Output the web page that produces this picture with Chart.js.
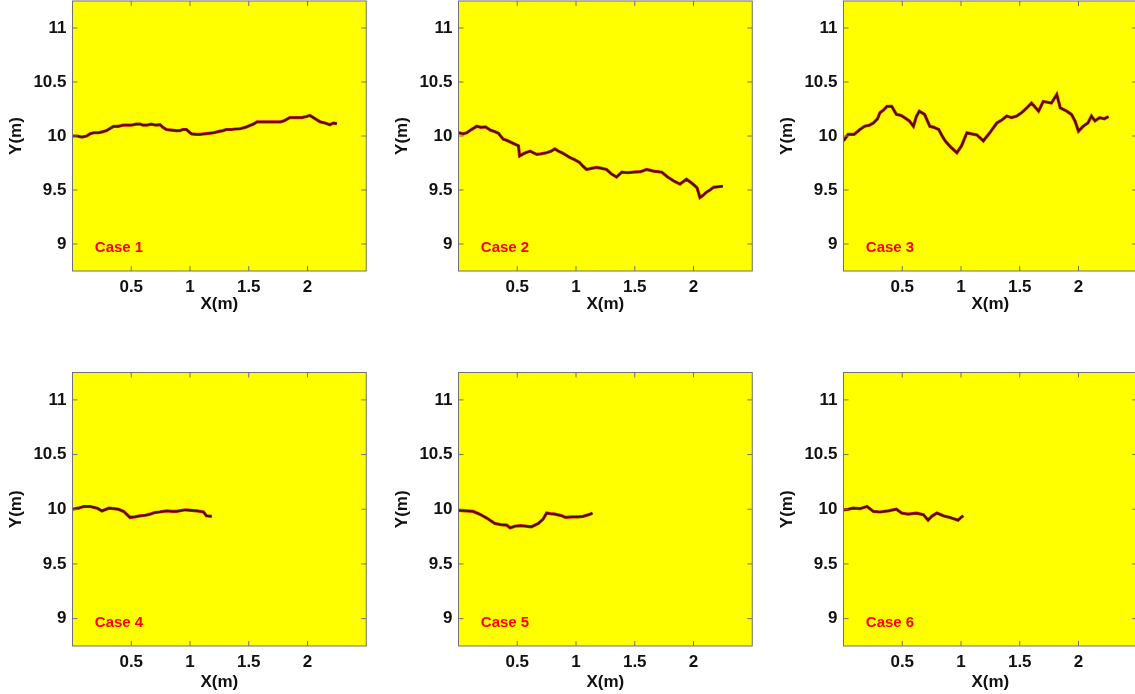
<!DOCTYPE html>
<html>
<head>
<meta charset="utf-8">
<script src="https://cdn.jsdelivr.net/npm/chart.js@4.4.1/dist/chart.umd.min.js"></script>
<style>
  html, body { margin: 0; padding: 0; background: #fff; overflow: hidden; }
  body { width: 1135px; height: 694px; position: relative; }
  canvas { position: absolute; }
</style>
</head>
<body>
<canvas id="c1" width="380" height="316" style="left:0px;top:0px"></canvas>
<canvas id="c2" width="380" height="316" style="left:386px;top:0px"></canvas>
<canvas id="c3" width="380" height="316" style="left:771px;top:0px"></canvas>
<canvas id="c4" width="380" height="334" style="left:0px;top:360px"></canvas>
<canvas id="c5" width="380" height="334" style="left:386px;top:360px"></canvas>
<canvas id="c6" width="380" height="334" style="left:771px;top:360px"></canvas>
<script>
// tick labels
const xTicks = [0.5, 1, 1.5, 2];
const yTicks = [9, 9.5, 10, 10.5, 11];
const caseNames = ['Case 1', 'Case 2', 'Case 3', 'Case 4', 'Case 5', 'Case 6'];

// trajectories
const x1 = [0, 0.04, 0.08, 0.12, 0.15, 0.18, 0.22, 0.26, 0.29, 0.32, 0.35, 0.39, 0.43, 0.46, 0.5, 0.54, 0.575, 0.6, 0.63, 0.67, 0.71, 0.745, 0.77, 0.8, 0.84, 0.88, 0.915, 0.94, 0.97, 1.0, 1.015, 1.05, 1.085, 1.12, 1.16, 1.2, 1.24, 1.28, 1.31, 1.35, 1.39, 1.425, 1.47, 1.51, 1.54, 1.57, 1.62, 1.67, 1.72, 1.77, 1.8, 1.85, 1.9, 1.95, 1.99, 2.02, 2.05, 2.08, 2.11, 2.15, 2.19, 2.22, 2.25];
const y1 = [10.0, 10.0, 9.99, 10.0, 10.02, 10.03, 10.03, 10.04, 10.05, 10.07, 10.09, 10.09, 10.1, 10.1, 10.1, 10.11, 10.11, 10.1, 10.1, 10.11, 10.1, 10.105, 10.08, 10.06, 10.055, 10.05, 10.05, 10.06, 10.06, 10.03, 10.02, 10.015, 10.015, 10.02, 10.025, 10.03, 10.04, 10.05, 10.06, 10.06, 10.065, 10.067, 10.08, 10.098, 10.11, 10.13, 10.13, 10.13, 10.13, 10.13, 10.14, 10.17, 10.17, 10.17, 10.18, 10.19, 10.17, 10.15, 10.13, 10.12, 10.105, 10.12, 10.115];

const x2 = [0, 0.04, 0.07, 0.11, 0.155, 0.19, 0.23, 0.27, 0.31, 0.34, 0.38, 0.41, 0.45, 0.51, 0.52, 0.56, 0.61, 0.665, 0.7, 0.75, 0.79, 0.82, 0.85, 0.88, 0.95, 0.99, 1.03, 1.06, 1.09, 1.13, 1.175, 1.22, 1.26, 1.3, 1.345, 1.39, 1.44, 1.49, 1.55, 1.6, 1.66, 1.73, 1.78, 1.83, 1.885, 1.94, 1.995, 2.03, 2.055, 2.08, 2.11, 2.14, 2.17, 2.21, 2.25];
const y2 = [10.03, 10.02, 10.03, 10.06, 10.09, 10.08, 10.085, 10.055, 10.04, 10.025, 9.97, 9.96, 9.94, 9.91, 9.815, 9.84, 9.86, 9.83, 9.835, 9.845, 9.86, 9.88, 9.86, 9.845, 9.8, 9.78, 9.755, 9.72, 9.69, 9.7, 9.71, 9.7, 9.69, 9.65, 9.62, 9.665, 9.66, 9.665, 9.67, 9.69, 9.675, 9.665, 9.62, 9.585, 9.555, 9.6, 9.555, 9.52, 9.43, 9.45, 9.48, 9.5, 9.525, 9.53, 9.535];

const x3 = [0, 0.04, 0.09, 0.14, 0.18, 0.22, 0.255, 0.29, 0.31, 0.34, 0.37, 0.41, 0.45, 0.49, 0.52, 0.56, 0.595, 0.62, 0.645, 0.69, 0.735, 0.77, 0.81, 0.84, 0.865, 0.91, 0.965, 1.005, 1.05, 1.09, 1.135, 1.19, 1.245, 1.305, 1.35, 1.39, 1.43, 1.475, 1.52, 1.56, 1.6, 1.66, 1.7, 1.77, 1.815, 1.845, 1.9, 1.94, 1.97, 2.0, 2.04, 2.08, 2.11, 2.14, 2.18, 2.22, 2.255];
const y3 = [9.955, 10.015, 10.015, 10.06, 10.09, 10.1, 10.12, 10.16, 10.215, 10.24, 10.275, 10.275, 10.2, 10.19, 10.17, 10.14, 10.09, 10.18, 10.23, 10.2, 10.09, 10.08, 10.06, 10.0, 9.955, 9.9, 9.845, 9.91, 10.03, 10.02, 10.01, 9.955, 10.03, 10.12, 10.15, 10.185, 10.17, 10.185, 10.22, 10.26, 10.305, 10.23, 10.32, 10.305, 10.385, 10.26, 10.23, 10.2, 10.14, 10.045, 10.09, 10.12, 10.185, 10.14, 10.17, 10.16, 10.18];

const x4 = [0, 0.05, 0.095, 0.15, 0.21, 0.25, 0.31, 0.35, 0.39, 0.435, 0.49, 0.53, 0.575, 0.62, 0.66, 0.7, 0.74, 0.8, 0.85, 0.885, 0.96, 1.01, 1.06, 1.115, 1.14, 1.185];
const y4 = [10.0, 10.01, 10.025, 10.025, 10.01, 9.985, 10.01, 10.005, 10.0, 9.98, 9.925, 9.93, 9.94, 9.945, 9.955, 9.97, 9.975, 9.985, 9.98, 9.98, 9.995, 9.99, 9.985, 9.975, 9.94, 9.935];

const x5 = [0, 0.07, 0.125, 0.18, 0.24, 0.31, 0.36, 0.41, 0.44, 0.48, 0.525, 0.57, 0.62, 0.68, 0.72, 0.75, 0.78, 0.82, 0.88, 0.91, 0.975, 1.02, 1.06, 1.12, 1.14];
const y5 = [9.99, 9.985, 9.98, 9.955, 9.92, 9.87, 9.86, 9.855, 9.83, 9.845, 9.85, 9.845, 9.84, 9.87, 9.91, 9.965, 9.96, 9.955, 9.94, 9.925, 9.93, 9.93, 9.935, 9.955, 9.965];

const x6 = [0, 0.04, 0.08, 0.14, 0.2, 0.255, 0.31, 0.38, 0.45, 0.495, 0.55, 0.62, 0.68, 0.72, 0.75, 0.795, 0.85, 0.905, 0.975, 1.005, 1.02];
const y6 = [9.995, 10.0, 10.01, 10.005, 10.025, 9.98, 9.975, 9.985, 10.0, 9.965, 9.955, 9.965, 9.95, 9.9, 9.935, 9.965, 9.94, 9.925, 9.9, 9.93, 9.94];

const allX = [x1, x2, x3, x4, x5, x6];
const allY = [y1, y2, y3, y4, y5, y6];

const FONT = "'Liberation Sans', Arial, sans-serif";

// yellow background, inward ticks on all four sides, box and case label
const axesPlugin = {
  id: 'matlabAxes',
  beforeDatasetsDraw(chart) {
    const a = chart.chartArea;
    const ctx = chart.ctx;
    ctx.save();
    ctx.fillStyle = '#ffff00';
    ctx.fillRect(a.left, a.top, a.right - a.left, a.bottom - a.top);
    ctx.restore();
  },
  afterDraw(chart) {
    const a = chart.chartArea;
    const ctx = chart.ctx;
    const xs = chart.scales.x, ys = chart.scales.y;
    ctx.save();
    ctx.strokeStyle = '#707070';
    ctx.lineWidth = 1;
    ctx.beginPath();
    xTicks.forEach(v => {
      const px = xs.getPixelForValue(v);
      ctx.moveTo(px, a.bottom); ctx.lineTo(px, a.bottom - 5);
      ctx.moveTo(px, a.top); ctx.lineTo(px, a.top + 5);
    });
    yTicks.forEach(v => {
      const py = ys.getPixelForValue(v);
      ctx.moveTo(a.left, py); ctx.lineTo(a.left + 5, py);
      ctx.moveTo(a.right, py); ctx.lineTo(a.right - 5, py);
    });
    ctx.stroke();
    ctx.strokeRect(a.left, a.top, a.right - a.left, a.bottom - a.top);

    const label = chart.options.plugins.matlabAxes.label;
    ctx.fillStyle = '#ff0000';
    ctx.font = 'bold 15px ' + FONT;
    ctx.textBaseline = 'middle';
    ctx.textAlign = 'left';
    ctx.fillText(label, xs.getPixelForValue(0.19), ys.getPixelForValue(8.96));
    ctx.restore();
  }
};

function noPad(s) {
  s.paddingTop = 0; s.paddingBottom = 0; s.paddingLeft = 0; s.paddingRight = 0;
}

function makeChart(i) {
  const pts = allX[i].map((x, k) => ({ x: x, y: allY[i][k] }));
  const row2 = i >= 3;
  new Chart(document.getElementById('c' + (i + 1)), {
    type: 'scatter',
    data: {
      datasets: [
        { data: pts, showLine: true, borderColor: '#3c1408', borderWidth: 1.8, pointRadius: 0, tension: 0 },
        { data: pts, showLine: true, borderColor: '#d81a10', borderWidth: 3.2, pointRadius: 0, tension: 0 }
      ]
    },
    plugins: [axesPlugin],
    options: {
      responsive: false,
      animation: false,
      devicePixelRatio: 1,
      layout: { padding: { left: 0, right: 13.75, top: row2 ? 12.5 : 1, bottom: 0 } },
      plugins: {
        legend: { display: false },
        tooltip: { enabled: false },
        matlabAxes: { label: caseNames[i] }
      },
      scales: {
        x: {
          type: 'linear', min: 0, max: 2.5,
          grid: { display: false, drawTicks: false },
          border: { display: false },
          afterBuildTicks: s => { s.ticks = xTicks.map(v => ({ value: v })); },
          afterFit: s => { s.height = row2 ? 48 : 45; noPad(s); },
          ticks: { color: '#111', padding: 6, callback: v => String(v),
                   font: { family: FONT, size: 17, weight: 'bold' } },
          title: { display: true, text: 'X(m)', color: '#111', padding: { top: 0, bottom: 1.5 },
                   font: { family: FONT, size: 17, weight: 'bold' } }
        },
        y: {
          type: 'linear', min: 8.75, max: 11.25,
          grid: { display: false, drawTicks: false },
          border: { display: false },
          afterBuildTicks: s => { s.ticks = yTicks.map(v => ({ value: v })); },
          afterFit: s => { s.width = 72.5; noPad(s); },
          ticks: { color: '#111', padding: 6, callback: v => String(v),
                   font: { family: FONT, size: 17, weight: 'bold' } },
          title: { display: true, text: 'Y(m)', color: '#111', padding: { top: 6, bottom: 0 },
                   font: { family: FONT, size: 17, weight: 'bold' } }
        }
      }
    }
  });
}

for (let i = 0; i < 6; i++) makeChart(i);
</script>
</body>
</html>
